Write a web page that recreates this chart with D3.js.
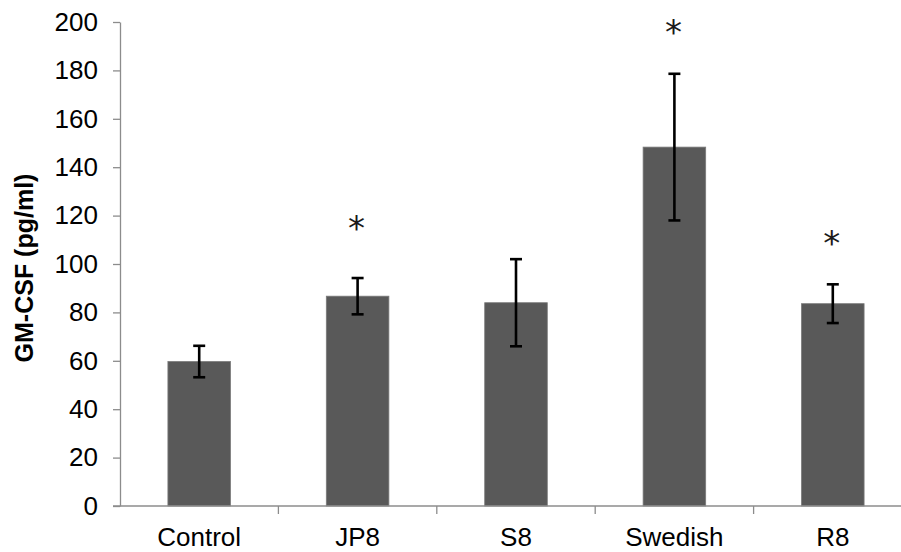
<!DOCTYPE html>
<html>
<head>
<meta charset="utf-8">
<script src="https://cdn.jsdelivr.net/npm/d3@7/dist/d3.min.js"></script>
<style>
  html, body { margin: 0; padding: 0; background: #fff; }
  svg { display: block; }
</style>
</head>
<body>
<svg id="chart" width="901" height="552"></svg>
<script>
const categories = ["Control", "JP8", "S8", "Swedish", "R8"];
const means = [59.7, 86.7, 84.0, 148.3, 83.6];
const errors = [6.5, 7.5, 18.0, 30.3, 8.0];
const significant = [false, true, false, true, true];
const starLevels = [null, 118, null, 199, 112];
const yTicks = [0, 20, 40, 60, 80, 100, 120, 140, 160, 180, 200];
const yTitle = "GM-CSF (pg/ml)";

const svg = d3.select("#chart");
const x0 = 120, yBottom = 506, yTop = 22, step = 158.4;

const x = d3.scaleBand()
  .domain(categories)
  .range([x0, x0 + step * categories.length])
  .paddingInner(0.605)
  .paddingOuter(0.3025);

const y = d3.scaleLinear().domain([0, 200]).range([yBottom, yTop]);

const axisColor = "#8c8c8c";
const font = "'Liberation Sans', Arial, sans-serif";

// bars
svg.append("g").selectAll("rect")
  .data(categories)
  .join("rect")
  .attr("x", d => x(d))
  .attr("width", x.bandwidth())
  .attr("y", (d, i) => y(means[i]))
  .attr("height", (d, i) => y(0) - y(means[i]))
  .attr("fill", "#595959")
  .attr("stroke", "#7a7a7a")
  .attr("stroke-width", 0.8);

// y axis
const yAxis = svg.append("g").attr("transform", `translate(${x0},0)`)
  .call(d3.axisLeft(y).tickValues(yTicks).tickSize(7).tickPadding(15).tickSizeOuter(0));
yAxis.select(".domain").attr("stroke", axisColor).attr("stroke-width", 1.3);
yAxis.selectAll(".tick line").attr("stroke", axisColor).attr("stroke-width", 1.3);
yAxis.selectAll(".tick text")
  .attr("font-family", font).attr("font-size", 26).attr("fill", "#000");

// x axis line
svg.append("line")
  .attr("x1", x0 - 7).attr("x2", 901)
  .attr("y1", yBottom).attr("y2", yBottom)
  .attr("stroke", axisColor).attr("stroke-width", 1.3);

// x boundary ticks
const boundaries = categories.slice(1).map(c => x(c) - x.step() * x.paddingInner() / 2);
svg.append("g").selectAll("line")
  .data(boundaries)
  .join("line")
  .attr("x1", d => d).attr("x2", d => d)
  .attr("y1", yBottom).attr("y2", yBottom + 8)
  .attr("stroke", axisColor).attr("stroke-width", 1.3);

// x labels
svg.append("g").selectAll("text")
  .data(categories)
  .join("text")
  .attr("x", d => x(d) + x.bandwidth() / 2)
  .attr("y", 546)
  .attr("text-anchor", "middle")
  .attr("font-family", font)
  .attr("font-size", 26)
  .attr("fill", "#000")
  .text(d => d);

// error bars
const eb = svg.append("g").attr("stroke", "#000").attr("stroke-width", 2.6);
categories.forEach((c, i) => {
  const cx = x(c) + x.bandwidth() / 2;
  const hi = y(means[i] + errors[i]);
  const lo = y(means[i] - errors[i]);
  eb.append("line").attr("x1", cx).attr("x2", cx).attr("y1", hi).attr("y2", lo);
  eb.append("line").attr("x1", cx - 6).attr("x2", cx + 6).attr("y1", hi).attr("y2", hi);
  eb.append("line").attr("x1", cx - 6).attr("x2", cx + 6).attr("y1", lo).attr("y2", lo);
});

// significance stars
svg.append("g").selectAll("text")
  .data(categories.filter((c, i) => significant[i]))
  .join("text")
  .attr("x", d => x(d) + x.bandwidth() / 2 - 1)
  .attr("y", d => y(starLevels[categories.indexOf(d)]) + 20)
  .attr("text-anchor", "middle")
  .attr("font-family", "'DejaVu Sans', sans-serif")
  .attr("font-size", 34)
  .attr("fill", "#1a1a1a")
  .text("*");

// y title
svg.append("text")
  .attr("transform", `translate(33,268) rotate(-90)`)
  .attr("text-anchor", "middle")
  .attr("font-family", font)
  .attr("font-weight", "bold")
  .attr("font-size", 25)
  .attr("fill", "#000")
  .text(yTitle);
</script>
</body>
</html>
